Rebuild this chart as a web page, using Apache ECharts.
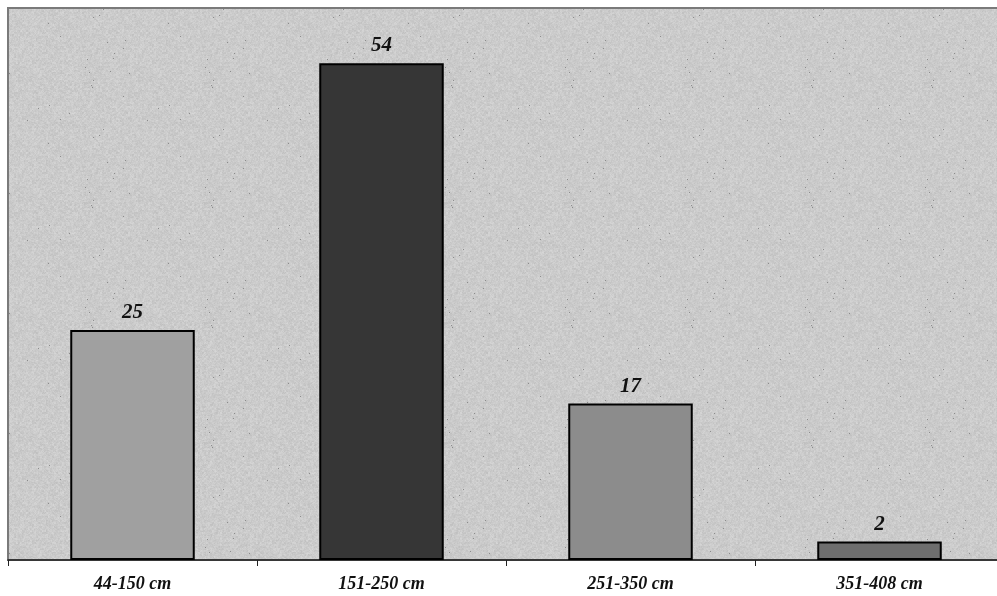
<!DOCTYPE html>
<html>
<head>
<meta charset="utf-8">
<script src="https://cdn.jsdelivr.net/npm/echarts@6/dist/echarts.min.js"></script>
<style>html,body{margin:0;padding:0;background:#fff;overflow:hidden;}#c{width:1020px;height:596px;}</style>
</head>
<body>
<div id="c"></div>
<script>
const categories = ['44-150 cm', '151-250 cm', '251-350 cm', '351-408 cm'];
const values = [25, 54, 17, 2];
const barColors = ['#a0a0a0', '#363636', '#8c8c8c', '#6e6e6e'];

// decorative paper-like texture for plot background
function makeTexture() {
  const size = 120;
  const cv = document.createElement('canvas');
  cv.width = size; cv.height = size;
  const ctx = cv.getContext('2d');
  const img = ctx.createImageData(size, size);
  for (let y = 0; y < size; y++) {
    for (let x = 0; x < size; x++) {
      const h = Math.abs(Math.sin(x * 12.9898 + y * 78.233) * 43758.5453) % 1;
      const h2 = Math.abs(Math.sin((x >> 1) * 39.346 + (y >> 1) * 11.135) * 24634.6345) % 1;
      let v = 203 + (h - 0.5) * 12 + (h2 - 0.5) * 12;
      if (h > 0.9985) v = 140;
      const i = (y * size + x) * 4;
      img.data[i] = img.data[i + 1] = img.data[i + 2] = Math.round(v);
      img.data[i + 3] = 255;
    }
  }
  ctx.putImageData(img, 0, 0);
  return cv;
}

const chart = echarts.init(document.getElementById('c'));
chart.setOption({
  animation: false,
  backgroundColor: '#ffffff',
  grid: {
    left: 8, top: 8, right: 16, bottom: 36,
    show: true,
    backgroundColor: { image: makeTexture(), repeat: 'repeat' },
    borderColor: '#7a7a7a', borderWidth: 2
  },
  xAxis: {
    type: 'category',
    data: categories,
    boundaryGap: true,
    axisLine: { show: true, lineStyle: { color: '#222', width: 1.5 } },
    axisTick: { show: true, length: 6, lineStyle: { color: '#222' } },
    axisLabel: {
      margin: 15,
      fontFamily: 'Liberation Serif', fontStyle: 'italic', fontWeight: 'bold',
      fontSize: 18, color: '#111'
    }
  },
  yAxis: {
    type: 'value', min: 0, max: 60,
    axisLine: { show: false }, axisTick: { show: false },
    axisLabel: { show: false }, splitLine: { show: false }
  },
  series: [{
    type: 'bar',
    data: values.map((v, i) => ({ value: v, itemStyle: { color: barColors[i] } })),
    barWidth: '50%',
    itemStyle: { borderColor: '#000', borderWidth: 2 },
    label: {
      show: true, position: 'top', distance: 7,
      fontFamily: 'Liberation Serif', fontStyle: 'italic', fontWeight: 'bold',
      fontSize: 21, color: '#111'
    }
  }]
});
</script>
</body>
</html>
